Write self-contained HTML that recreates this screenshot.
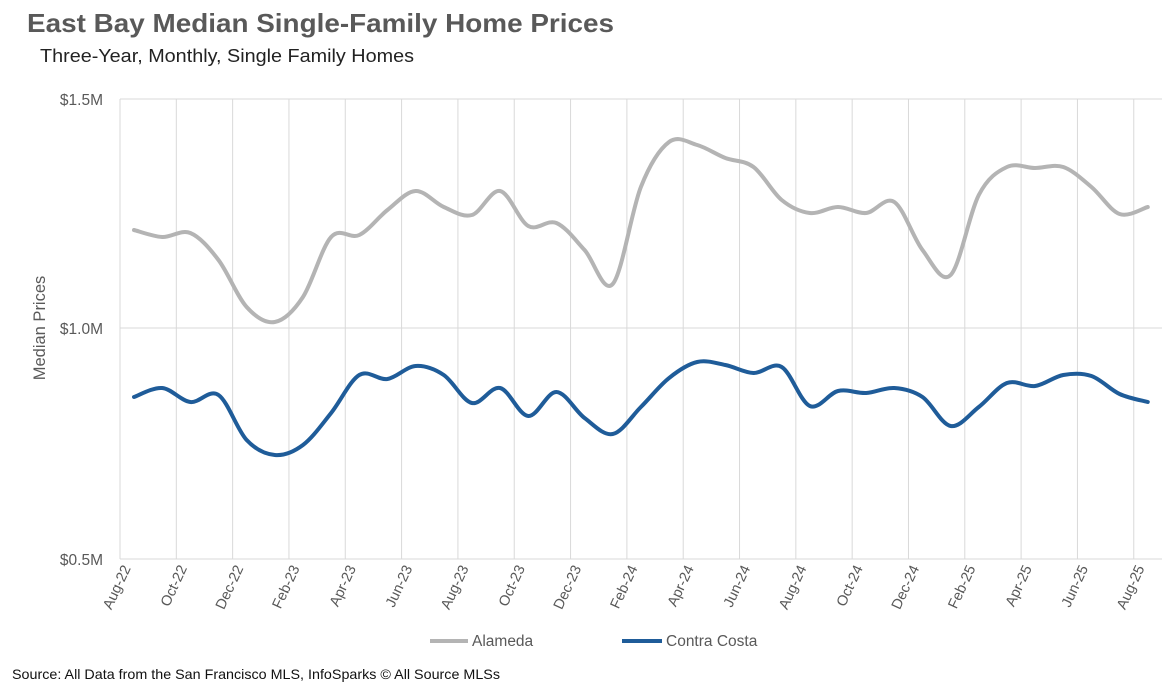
<!DOCTYPE html>
<html><head><meta charset="utf-8"><style>
body{margin:0;background:#fff;width:1172px;height:686px;overflow:hidden;font-family:"Liberation Sans",sans-serif}
</style></head><body>
<svg id="s" width="1172" height="686" xmlns="http://www.w3.org/2000/svg" font-family="Liberation Sans, sans-serif">
<text x="27" y="32" font-size="26" font-weight="bold" fill="#595959" textLength="587" lengthAdjust="spacingAndGlyphs">East Bay Median Single-Family Home Prices</text>
<text x="40" y="62" font-size="18" fill="#222" textLength="374" lengthAdjust="spacingAndGlyphs">Three-Year, Monthly, Single Family Homes</text>
<g id="grid" stroke="#d9d9d9" stroke-width="1"></g>
<g font-size="15.5" fill="#595959" text-anchor="end">
<text x="103" y="105">$1.5M</text><text x="103" y="334">$1.0M</text><text x="103" y="565">$0.5M</text>
</g>
<text transform="translate(45,328) rotate(-90)" font-size="16.5" fill="#595959" text-anchor="middle">Median Prices</text>
<g id="lbl" font-size="14.5" fill="#595959" text-anchor="end"></g>
<path id="a" fill="none" stroke="#b4b4b4" stroke-width="4" stroke-linecap="round"/>
<path id="c" fill="none" stroke="#1f5c99" stroke-width="4" stroke-linecap="round"/>
<line x1="430" y1="641" x2="468" y2="641" stroke="#b4b4b4" stroke-width="4"/>
<text x="472" y="646" font-size="15.5" fill="#595959">Alameda</text>
<line x1="622" y1="641" x2="662" y2="641" stroke="#1f5c99" stroke-width="4"/>
<text x="666" y="646" font-size="15.5" fill="#595959">Contra Costa</text>
<text x="12" y="679" font-size="14" fill="#111" textLength="488" lengthAdjust="spacingAndGlyphs">Source: All Data from the San Francisco MLS, InfoSparks © All Source MLSs</text>
</svg>
<script>
var ns="http://www.w3.org/2000/svg";
function el(p,t,a){var e=document.createElementNS(ns,t);for(var k in a)e.setAttribute(k,a[k]);p.appendChild(e);return e;}
var g=document.getElementById('grid');
[99,328,559].forEach(function(y){el(g,'line',{x1:120,x2:1162,y1:y,y2:y});});
for(var k=0;k<=18;k++){var x=120+56.32*k;el(g,'line',{x1:x,x2:x,y1:99,y2:559});}
var A=[230,237,233,260,307,322,297,237,235,210,191,207,215,191,226,223,250,284,187,142,145,158,167,200,213,207,213,202,250,275,195,167,168,167,187,214,207];
var C=[397,388,402,395,440,455,445,413,375,379,366,375,403,388,416,392,418,434,407,378,362,365,373,367,406,391,393,388,397,426,407,383,386,375,376,394,402];
function X(i){return 134+28.16*i;}
function path(Y){var d='M'+X(0)+','+Y[0];for(var i=0;i<Y.length-1;i++){var p0=i?i-1:0,p3=i+2<Y.length?i+2:i+1;
var c1x=X(i)+(X(i+1)-X(p0))/6,c1y=Y[i]+(Y[i+1]-Y[p0])/6,c2x=X(i+1)-(X(p3)-X(i))/6,c2y=Y[i+1]-(Y[p3]-Y[i])/6;
d+=' C'+c1x+','+c1y+' '+c2x+','+c2y+' '+X(i+1)+','+Y[i+1];}return d;}
document.getElementById('a').setAttribute('d',path(A));
document.getElementById('c').setAttribute('d',path(C));
var m=['Aug','Oct','Dec','Feb','Apr','Jun'],l=document.getElementById('lbl');
for(var i=0;i<=36;i+=2){var mi=(i/2)%6;var yr=22+Math.floor((i+7)/12);
var t=el(l,'text',{transform:'translate('+(X(i)-3)+',568) rotate(-65)'});t.textContent=m[mi]+'-'+yr;}
</script>
</body></html>
